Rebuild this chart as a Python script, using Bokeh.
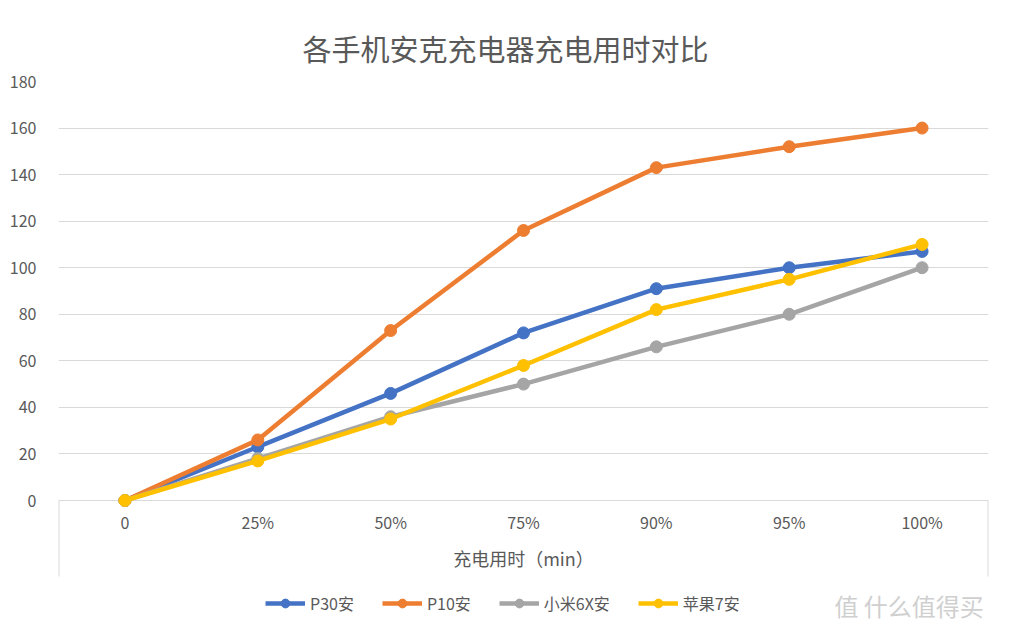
from bokeh.plotting import figure
from bokeh.models import FactorRange, Range1d, FixedTicker, Legend, LegendItem, Label
from bokeh.embed import file_html
from bokeh.resources import INLINE

categories = ["0", "25%", "50%", "75%", "90%", "95%", "100%"]
p30 = [0, 23, 46, 72, 91, 100, 107]
p10 = [0, 26, 73, 116, 143, 152, 160]
mi6x = [0, 18, 36, 50, 66, 80, 100]
apple7 = [0, 17, 35, 58, 82, 95, 110]
series_names = ["P30安", "P10安", "小米6X安", "苹果7安"]
series_values = [p30, p10, mi6x, apple7]
colors = ["#4472C4", "#ED7D31", "#A5A5A5", "#FFC000"]
y_ticks = [0, 20, 40, 60, 80, 100, 120, 140, 160, 180]

FONT = "Noto Sans CJK SC"
TXT = "#595959"
GRID = "#D9D9D9"

# frame: x 58..988, y 81..620 ; value 0 at y=500, 180 at y=81
PX_PER_UNIT = (500 - 81) / 180.0
y_bottom = -(620 - 500) / PX_PER_UNIT
box_bottom = -(576 - 500) / PX_PER_UNIT

p = figure(width=1008, height=632, x_range=FactorRange(factors=categories, range_padding=0),
           y_range=Range1d(y_bottom, 180), output_backend="svg", toolbar_location=None,
           min_border_left=58, min_border_right=20, min_border_top=81, min_border_bottom=12)

p.title.text = "各手机安克充电器充电用时对比"
p.title.align = "left"
p.title.offset = 244
p.title.text_font = FONT
p.title.text_font_size = "29px"
p.title.text_font_style = "normal"
p.title.text_color = TXT
p.title.standoff = 26

p.outline_line_color = None
p.xgrid.grid_line_color = None
p.ygrid.grid_line_color = GRID
p.ygrid.grid_line_width = 1

p.yaxis.ticker = FixedTicker(ticks=y_ticks)
p.yaxis.axis_line_color = None
p.yaxis.major_tick_line_color = None
p.yaxis.minor_tick_line_color = None
p.yaxis.major_label_text_font = FONT
p.yaxis.major_label_text_font_size = "16px"
p.yaxis.major_label_text_color = TXT
p.yaxis.major_label_standoff = 16

p.xaxis.axis_line_color = None
p.xaxis.major_tick_line_color = None
p.xaxis.minor_tick_line_color = None
p.xaxis.major_label_text_font = FONT
p.xaxis.major_label_text_font_size = "16px"
p.xaxis.major_label_text_color = TXT
p.xaxis.major_label_standoff = -117
p.xaxis.axis_label = "充电用时（min）"
p.xaxis.axis_label_text_font = FONT
p.xaxis.axis_label_text_font_size = "18px"
p.xaxis.axis_label_text_font_style = "normal"
p.xaxis.axis_label_text_color = TXT
p.xaxis.axis_label_standoff = 8

# open box under the category axis (left and right walls)
n = len(categories)
p.segment(x0=[0, n], y0=[0, 0], x1=[0, n], y1=[box_bottom, box_bottom],
          line_color=GRID, line_width=2)

items = []
for name, vals, c in zip(series_names, series_values, colors):
    r1 = p.line(categories, vals, line_color=c, line_width=4.5)
    r2 = p.scatter(categories, vals, size=12, fill_color=c, line_color=c)
    items.append(LegendItem(label=name, renderers=[r1, r2]))

legend = Legend(items=items, orientation="horizontal", location=(207, 5),
                glyph_width=40, glyph_height=22, label_standoff=5, spacing=28,
                label_text_font=FONT, label_text_font_size="16px", label_text_color=TXT,
                border_line_color=None, background_fill_alpha=0, padding=0, margin=0)
p.add_layout(legend)

wm = Label(x=5.84, y=-(605 - 500) / PX_PER_UNIT, text="值 什么值得买", text_baseline="middle",
           text_font=FONT, text_font_size="24px", text_color="#CFCFCF")
p.add_layout(wm)

open("out.html", "w").write(file_html(p, INLINE))
